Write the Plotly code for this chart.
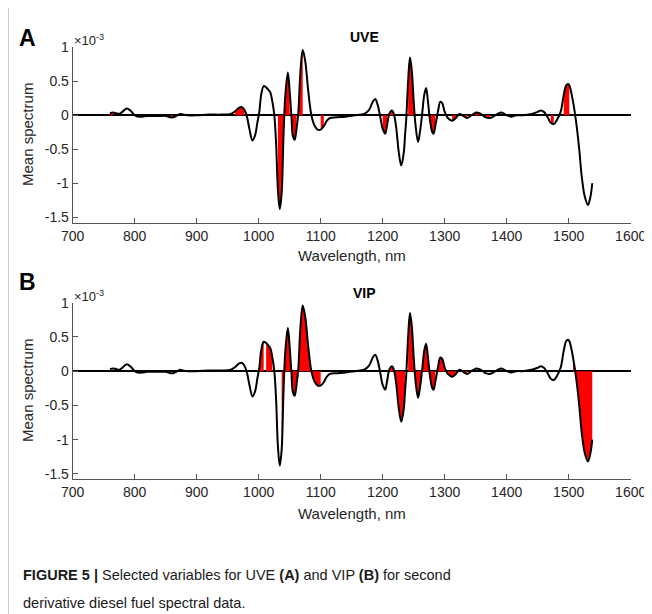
import plotly.graph_objects as go

# Mean second-derivative spectrum (units of 1e-3)
wavelength = [760, 765, 770, 775, 780, 787, 793, 800, 805, 812, 820, 830, 840, 850, 858, 862, 867, 873, 878, 885,
              900, 920, 940, 955, 962, 968, 973, 977, 981, 985, 990, 994, 998, 1001, 1004, 1008, 1012, 1016, 1019,
              1022, 1025, 1028, 1031, 1034, 1037, 1040, 1043, 1047, 1050, 1053, 1055, 1058, 1061, 1064, 1067, 1071,
              1075, 1080, 1085, 1090, 1095, 1100, 1105, 1110, 1115, 1125, 1140, 1155, 1170, 1178, 1184, 1188, 1192,
              1196, 1200, 1204, 1207, 1211, 1215, 1218, 1222, 1226, 1230, 1234, 1236, 1238, 1241, 1244, 1247, 1250,
              1253, 1257, 1260, 1264, 1267, 1270, 1273, 1276, 1280, 1282, 1285, 1289, 1293, 1296, 1300, 1305, 1312,
              1318, 1324, 1330, 1336, 1343, 1347, 1351, 1356, 1360, 1366, 1373, 1380, 1391, 1398, 1407, 1415, 1426,
              1440, 1450, 1455, 1460, 1466, 1471, 1476, 1481, 1487, 1492, 1496, 1499, 1501, 1503, 1507, 1512, 1517,
              1521, 1526, 1531, 1535, 1538]
mean_spectrum = [0.03, 0.04, 0.03, 0.02, 0.05, 0.10, 0.07, 0.00, -0.02, -0.02, -0.01, -0.01, -0.01, -0.01, -0.03,
                 -0.03, -0.01, 0.02, 0.01, 0.00, 0.00, 0.01, 0.01, 0.02, 0.06, 0.11, 0.12, 0.08, -0.02, -0.20, -0.37,
                 -0.30, -0.10, 0.05, 0.30, 0.43, 0.41, 0.37, 0.33, 0.20, 0.02, -0.40, -1.10, -1.38, -1.15, -0.30,
                 0.30, 0.63, 0.35, -0.05, -0.30, -0.36, -0.20, 0.05, 0.60, 0.96, 0.80, 0.35, 0.00, -0.15, -0.21,
                 -0.21, -0.16, -0.08, -0.04, -0.03, -0.02, 0.00, 0.02, 0.08, 0.20, 0.24, 0.15, -0.02, -0.20, -0.27,
                 -0.15, 0.03, 0.07, 0.02, -0.20, -0.55, -0.74, -0.55, -0.30, -0.05, 0.50, 0.85, 0.65, 0.20, -0.15,
                 -0.39, -0.25, 0.05, 0.30, 0.40, 0.20, -0.05, -0.25, -0.27, -0.15, 0.05, 0.20, 0.18, 0.05, -0.04,
                 -0.08, -0.04, 0.02, -0.01, -0.04, 0.00, 0.02, 0.04, 0.03, 0.01, -0.03, -0.04, -0.01, 0.04, 0.01,
                 -0.02, 0.00, 0.00, 0.02, 0.05, 0.07, 0.05, -0.03, -0.11, -0.13, -0.07, 0.05, 0.30, 0.44, 0.46, 0.44,
                 0.38, 0.20, -0.10, -0.50, -0.90, -1.20, -1.32, -1.20, -1.00]

# Selected wavelength ranges (nm)
uve_ranges = [(760, 765), (858, 862), (962, 977), (1031, 1050), (1053, 1061), (1064, 1071), (1100, 1105),
              (1200, 1207), (1211, 1218), (1241, 1250), (1276, 1285), (1312, 1318), (1330, 1336), (1347, 1356),
              (1366, 1373), (1471, 1476), (1492, 1501)]
vip_ranges = [(1001, 1008), (1012, 1022), (1037, 1100), (1211, 1236), (1241, 1285), (1289, 1300), (1305, 1318),
              (1324, 1336), (1507, 1538)]

x_ticks = [700, 800, 900, 1000, 1100, 1200, 1300, 1400, 1500, 1600]
y_ticks = [-1.5, -1, -0.5, 0, 0.5, 1]
y_tick_labels = ["-1.5", "-1", "-0.5", "0", "0.5", "1"]

# page body adds an 8px offset; figure is sized to fit the 652x614 window
OFF = 8
W, H = 652 - OFF, 614 - OFF
FONT = "Liberation Sans, Arial, sans-serif"


def PX(px):
    return (px - OFF) / W


def PY(py):
    return 1 - (py - OFF) / H


fig = go.Figure()


def add_panel(ranges, xa, ya):
    for lo, hi in ranges:
        xs = [w for w in wavelength if lo <= w <= hi]
        ys = [v for w, v in zip(wavelength, mean_spectrum) if lo <= w <= hi]
        fig.add_trace(go.Scatter(x=xs, y=ys, mode="lines", line=dict(width=0, color="red", shape="spline"),
                                 fill="tozeroy", fillcolor="#ff0000", xaxis=xa, yaxis=ya,
                                 showlegend=False, hoverinfo="skip"))
    fig.add_trace(go.Scatter(x=wavelength, y=mean_spectrum, mode="lines",
                             line=dict(color="black", width=2, shape="spline"),
                             xaxis=xa, yaxis=ya, showlegend=False))


add_panel(uve_ranges, "x", "y")
add_panel(vip_ranges, "x2", "y2")

xdom = [PX(72.7), PX(630.7)]
ydomA = [PY(222.7), PY(47.3)]
ydomB = [PY(479.3), PY(302.7)]

axcommon = dict(showline=True, linecolor="#555555", linewidth=1, ticks="inside", ticklen=5, automargin=False,
                tickcolor="#555555", showgrid=False, tickfont=dict(family=FONT, size=14, color="#262626"))

fig.update_layout(
    width=W, height=H, margin=dict(l=0, r=0, t=0, b=0, autoexpand=False),
    paper_bgcolor="white", plot_bgcolor="white",
    xaxis=dict(domain=xdom, range=[700, 1600], tickvals=x_ticks, anchor="y", zeroline=False, **axcommon),
    yaxis=dict(domain=ydomA, range=[-1.58, 1.0], tickvals=y_ticks, ticktext=y_tick_labels, anchor="x",
               zeroline=True, zerolinecolor="black", zerolinewidth=2, **axcommon),
    xaxis2=dict(domain=xdom, range=[700, 1600], tickvals=x_ticks, anchor="y2", zeroline=False, **axcommon),
    yaxis2=dict(domain=ydomB, range=[-1.58, 1.0], tickvals=y_ticks, ticktext=y_tick_labels, anchor="x2",
                zeroline=True, zerolinecolor="black", zerolinewidth=2, **axcommon),
)


def ann(text, x, y, size, bold=False, xanchor="center", angle=0, color="#262626", family=FONT):
    fig.add_annotation(text=f"<b>{text}</b>" if bold else text, x=PX(x), y=PY(y), xref="paper",
                       yref="paper", showarrow=False, xanchor=xanchor, yanchor="middle", textangle=angle,
                       font=dict(family=family, size=size, color=color))


for top, title, letter, ly in [(0, "UVE", "A", 38), (258, "VIP", "B", 282)]:
    ann(letter, 27, ly, 23, bold=True, color="black")
    ann(title, 364, 37 + (256 if top else 0), 14, bold=True, color="black")
    ann("×10<sup>-3</sup>", 72, (40 if not top else 296), 13, xanchor="left")
    ann("Mean spectrum", 27, (135 if not top else 391), 15, angle=-90)
    ann("Wavelength, nm", 351.7, (255 if not top else 513), 15)

ann("<b>FIGURE 5 |</b> Selected variables for UVE <b>(A)</b> and VIP <b>(B)</b> for second",
    21, 575, 14.5, xanchor="left", color="#1a1a1a")
ann("derivative diesel fuel spectral data.", 21, 603, 14.5, xanchor="left", color="#1a1a1a")

fig.add_shape(type="line", xref="paper", yref="paper", x0=PX(8), x1=PX(8), y0=0, y1=1,
              line=dict(color="#9a9a9a", width=1))

fig.write_html("out.html")
